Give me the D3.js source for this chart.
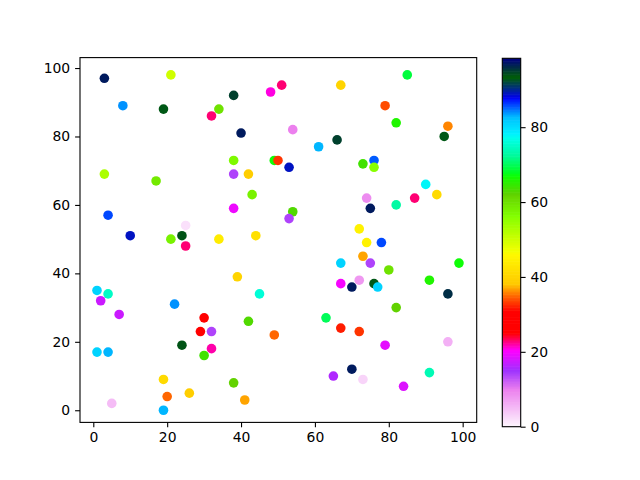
<!DOCTYPE html>
<html><head><meta charset="utf-8">
<script src="https://cdn.jsdelivr.net/npm/d3@7"></script>
<style>body{margin:0;background:#fff}svg{display:block}text{font-family:"DejaVu Sans",sans-serif;font-size:13.9px;fill:#000}</style>
</head><body><svg id="c" width="640" height="480"></svg>
<script>
const xs = [3,21,8,19,38,34,32,48,51,40,38,49,50,3,17,38,42,43,38,4,10,21,24,25,25,34,44,
 67,85,79,82,96,95,54,66,61,53,73,76,76,90,93,87,82,74,75,54,53,72,
 39,45,1,4,2,7,22,30,29,32,42,49,24,32,30,1,4,19,26,20,38,41,5,19,
 74,78,73,75,67,80,99,91,67,72,70,76,77,96,82,63,67,72,79,96,70,65,73,91,84];
const ys = [97,98,89,88,92,88,86,93,95,81,73,73,73,69,67,69,69,63,59,57,51,50,51,48,54,50,51,
 95,98,89,84,83,80,82,79,77,71,72,73,71,66,63,62,60,62,59,58,56,53,
 39,34,35,34,32,28,31,27,23,23,26,22,19,18,16,17,17,9,5,4,8,3,2,0,
 49,49,45,43,43,41,43,38,37,38,36,37,36,34,30,27,24,23,19,20,12,10,9,11,7];
const vals = [97,50,84,93,95,60,23,21,23,97,57,67,33,53,59,14,39,58,19.5,86,89,58,94,23,2,44,42,
 40,69,34,66,36,93,10,95,83,89,64,85.5,56,78,41,23,73,9,97,63,14,45,
 40,76,81,75,17.5,17.5,84,28,26,14,63,35,94,22,64,81,83,41,39,35,62,37,5,83,
 45,86,37,14,81,60,67,66,20,8,97,93,81,96,62,70,32,33,19,6,97,16,3,74,18.5];
const xTicks = [0,20,40,60,80,100];
const yTicks = [0,20,40,60,80,100];
const cTicks = [0,20,40,60,80];
const cMin = 0, cMax = 98.4;

// gist_ncar colormap segments, reversed use
const R=[[0,0],[0.3098,0],[0.3725,0.3993],[0.4235,0.5003],[0.5333,1],[0.7922,1],[0.8471,0.6218],[0.898,0.9235],[1,0.9961]];
const G=[[0,0],[0.051,0.3722],[0.1059,0],[0.1569,0.7202],[0.1608,0.7537],[0.1647,0.7752],[0.2157,1],[0.2588,0.9804],[0.2706,0.9804],[0.3176,1],[0.3686,0.8203],[0.4275,1],[0.5216,1],[0.6118,0.7892],[0.6471,0.3686],[0.6863,0],[0.7922,0],[0.8431,0.1765],[0.898,0.5],[1,0.9725]];
const B=[[0,0.502],[0.051,0.0222],[0.1098,1],[0.2039,1],[0.2627,0.6145],[0.3216,0],[0.7451,0],[0.7922,1],[0.8431,1],[0.898,0.9341],[1,0.9961]];
function seg(s,t){for(let i=1;i<s.length;i++){if(t<=s[i][0]){const a=s[i-1],b=s[i];return a[1]+(b[1]-a[1])*(t-a[0])/(b[0]-a[0]);}}return s[s.length-1][1];}
function ncarR(u){const t=Math.max(0,Math.min(1,1-u));return d3.rgb(seg(R,t)*255,seg(G,t)*255,seg(B,t)*255).toString();}
const color = d3.scaleSequential(ncarR).domain([cMin,cMax]);

const svg = d3.select("#c");
const L=80,Rt=476.7,T=57.6,Bm=422.4;
const x = d3.scaleLinear().domain([-3.6,103.8]).range([L,Rt]);
const y = d3.scaleLinear().domain([-3.55,103.05]).range([Bm,T]);

svg.append("g").selectAll("circle").data(xs.map((d,i)=>({x:d,y:ys[i],v:vals[i]}))).join("circle")
 .attr("cx",d=>x(d.x)).attr("cy",d=>y(d.y)).attr("r",4.8).attr("fill",d=>color(d.v));

svg.append("rect").attr("x",L).attr("y",T).attr("width",Rt-L).attr("height",Bm-T)
 .attr("fill","none").attr("stroke","#000").attr("stroke-width",1.1);

const xa = svg.append("g").attr("transform",`translate(0,${Bm})`)
 .call(d3.axisBottom(x).tickValues(xTicks).tickSize(4.9).tickPadding(4.9).tickFormat(d3.format("d")));
const ya = svg.append("g").attr("transform",`translate(${L},0)`)
 .call(d3.axisLeft(y).tickValues(yTicks).tickSize(4.9).tickPadding(4.9).tickFormat(d3.format("d")));
[xa,ya].forEach(a=>{a.select(".domain").remove();a.selectAll(".tick line").attr("stroke","#000").attr("stroke-width",1.1);a.selectAll("text").attr("font-size",13.9).attr("font-family","DejaVu Sans").attr("fill","#000");});

// colorbar
const cbX=502.3, cbW=18.4, cbT=58.3, cbB=426.7;
const cy = d3.scaleLinear().domain([cMin,cMax]).range([cbB,cbT]);
const N=256, steps=d3.range(N).map(i=>cMin+(cMax-cMin)*i/N);
svg.append("g").selectAll("rect").data(steps).join("rect")
 .attr("x",cbX).attr("width",cbW)
 .attr("y",d=>cy(d+(cMax-cMin)/N)).attr("height",d=>cy(d)-cy(d+(cMax-cMin)/N)+0.6)
 .attr("fill",d=>color(d+(cMax-cMin)/N/2));
svg.append("rect").attr("x",cbX).attr("y",cbT).attr("width",cbW).attr("height",cbB-cbT)
 .attr("fill","none").attr("stroke","#000").attr("stroke-width",1.1);
const ca = svg.append("g").attr("transform",`translate(${cbX+cbW},0)`)
 .call(d3.axisRight(cy).tickValues(cTicks).tickSize(4.9).tickPadding(4.9).tickFormat(d3.format("d")));
ca.select(".domain").remove();
ca.selectAll(".tick line").attr("stroke","#000").attr("stroke-width",1.1);
ca.selectAll("text").attr("font-size",13.9).attr("font-family","DejaVu Sans").attr("fill","#000");
</script></body></html>
